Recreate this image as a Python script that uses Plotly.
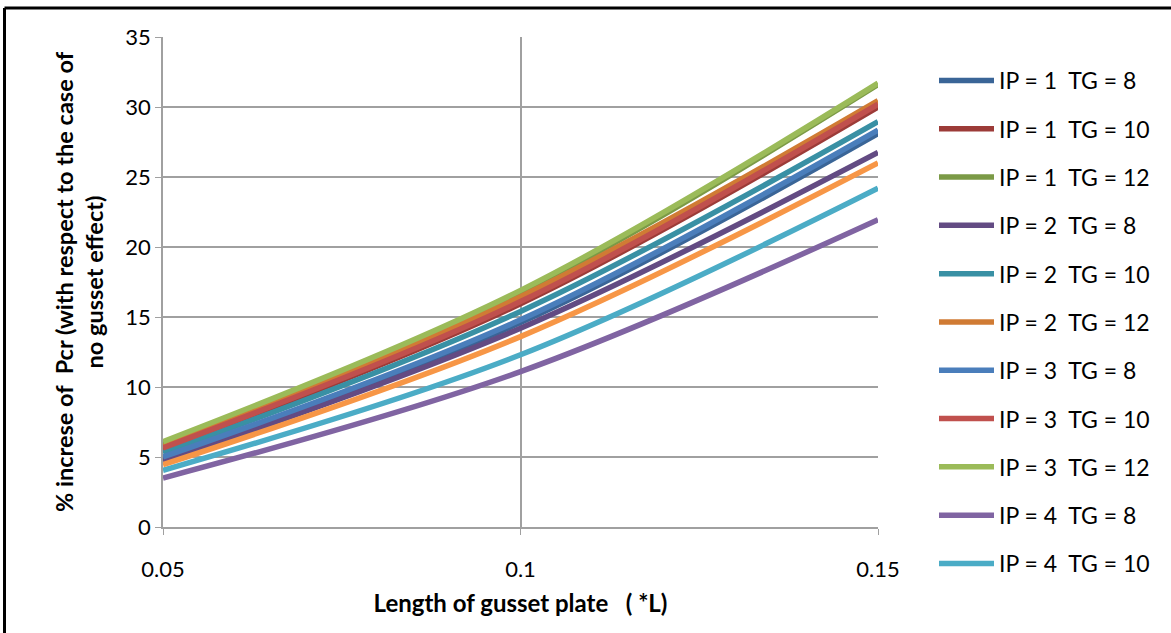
import plotly.graph_objects as go

x_vals = [0.05, 0.1, 0.15]

series_names = [
    "IP = 1  TG = 8", "IP = 1  TG = 10", "IP = 1  TG = 12",
    "IP = 2  TG = 8", "IP = 2  TG = 10", "IP = 2  TG = 12",
    "IP = 3  TG = 8", "IP = 3  TG = 10", "IP = 3  TG = 12",
    "IP = 4  TG = 8", "IP = 4  TG = 10", "IP = 4  TG = 12",
]

ip1_tg8 = [4.9, 14.6, 28.1]
ip1_tg10 = [5.55, 15.95, 30.0]
ip1_tg12 = [5.95, 16.7, 31.6]
ip2_tg8 = [4.7, 14.2, 26.75]
ip2_tg10 = [5.3, 15.4, 28.95]
ip2_tg12 = [5.75, 16.45, 30.45]
ip3_tg8 = [5.0, 14.8, 28.35]
ip3_tg10 = [5.65, 16.1, 30.2]
ip3_tg12 = [6.1, 16.9, 31.7]
ip4_tg8 = [3.5, 11.1, 21.95]
ip4_tg10 = [4.05, 12.3, 24.2]
ip4_tg12 = [4.45, 13.6, 26.0]

series_values = [ip1_tg8, ip1_tg10, ip1_tg12, ip2_tg8, ip2_tg10, ip2_tg12,
                 ip3_tg8, ip3_tg10, ip3_tg12, ip4_tg8, ip4_tg10, ip4_tg12]

colors = ["#3A6597", "#9C3B38", "#7B9A46", "#634B83", "#3990A4", "#D07B34",
          "#4A7EBB", "#C0504D", "#9BBB59", "#8064A2", "#4BACC6", "#F79646"]

shown_in_legend = [True] * 11 + [False]

font_family = "Lato, 'Open Sans', sans-serif"

fig = go.Figure()
for i, (name, vals) in enumerate(zip(series_names, series_values)):
    fig.add_trace(go.Scatter(
        x=x_vals, y=vals, mode="lines",
        name=name.replace(" ", "\u00a0"),
        line=dict(color=colors[i], width=5.5, shape="spline", smoothing=1.0),
        legendgroup=f"g{i}",
        showlegend=shown_in_legend[i],
    ))

# frame lines (top and left of picture)
fig.add_shape(type="line", xref="paper", yref="paper",
              x0=(4.5 - 163) / 715, x1=(1180 - 163) / 715,
              y0=(527 - 8) / 490, y1=(527 - 8) / 490,
              line=dict(color="black", width=3))
fig.add_shape(type="line", xref="paper", yref="paper",
              x0=(4.5 - 163) / 715, x1=(4.5 - 163) / 715,
              y0=(527 - 8) / 490, y1=(527 - 640) / 490,
              line=dict(color="black", width=3))

fig.update_layout(
    width=1171, height=633,
    margin=dict(l=163, r=293, t=37, b=106),
    paper_bgcolor="white", plot_bgcolor="white",
    font=dict(family=font_family, size=22, color="black"),
    showlegend=True,
    legend=dict(
        x=(934 - 163) / 715, xanchor="left", y=(527 - 59) / 490, yanchor="top",
        font=dict(family=font_family, size=23, color="black"),
        tracegroupgap=15.4, itemwidth=55, maxheight=900,
        bgcolor="rgba(0,0,0,0)",
    ),
    xaxis=dict(
        range=[0.05, 0.15], tickvals=x_vals, ticktext=["0.05", "0.1", "0.15"],
        showgrid=True, gridcolor="#A0A0A0", gridwidth=1.5,
        showline=True, linecolor="#A0A0A0", linewidth=1.5,
        ticks="outside", ticklen=6, tickcolor="#A0A0A0",
        ticklabelstandoff=16,
        zeroline=False,
        title=dict(text="<b>Length of gusset plate   ( *L)</b>".replace("   ", "\u00a0\u00a0\u00a0"),
                   font=dict(size=24), standoff=14),
    ),
    yaxis=dict(
        range=[0, 35], dtick=5,
        showgrid=True, gridcolor="#A0A0A0", gridwidth=1.5,
        showline=True, linecolor="#A0A0A0", linewidth=1.5,
        ticks="outside", ticklen=6, tickcolor="#A0A0A0",
        zeroline=False,
        title=dict(text="<b>% increse of\u00a0\u00a0Pcr (with respect to the case of<br>no gusset effect)</b>",
                   font=dict(size=23.5), standoff=15),
    ),
)

fig.write_html("out.html", config={"displayModeBar": False},
               post_script="document.body.style.margin='0px';")
